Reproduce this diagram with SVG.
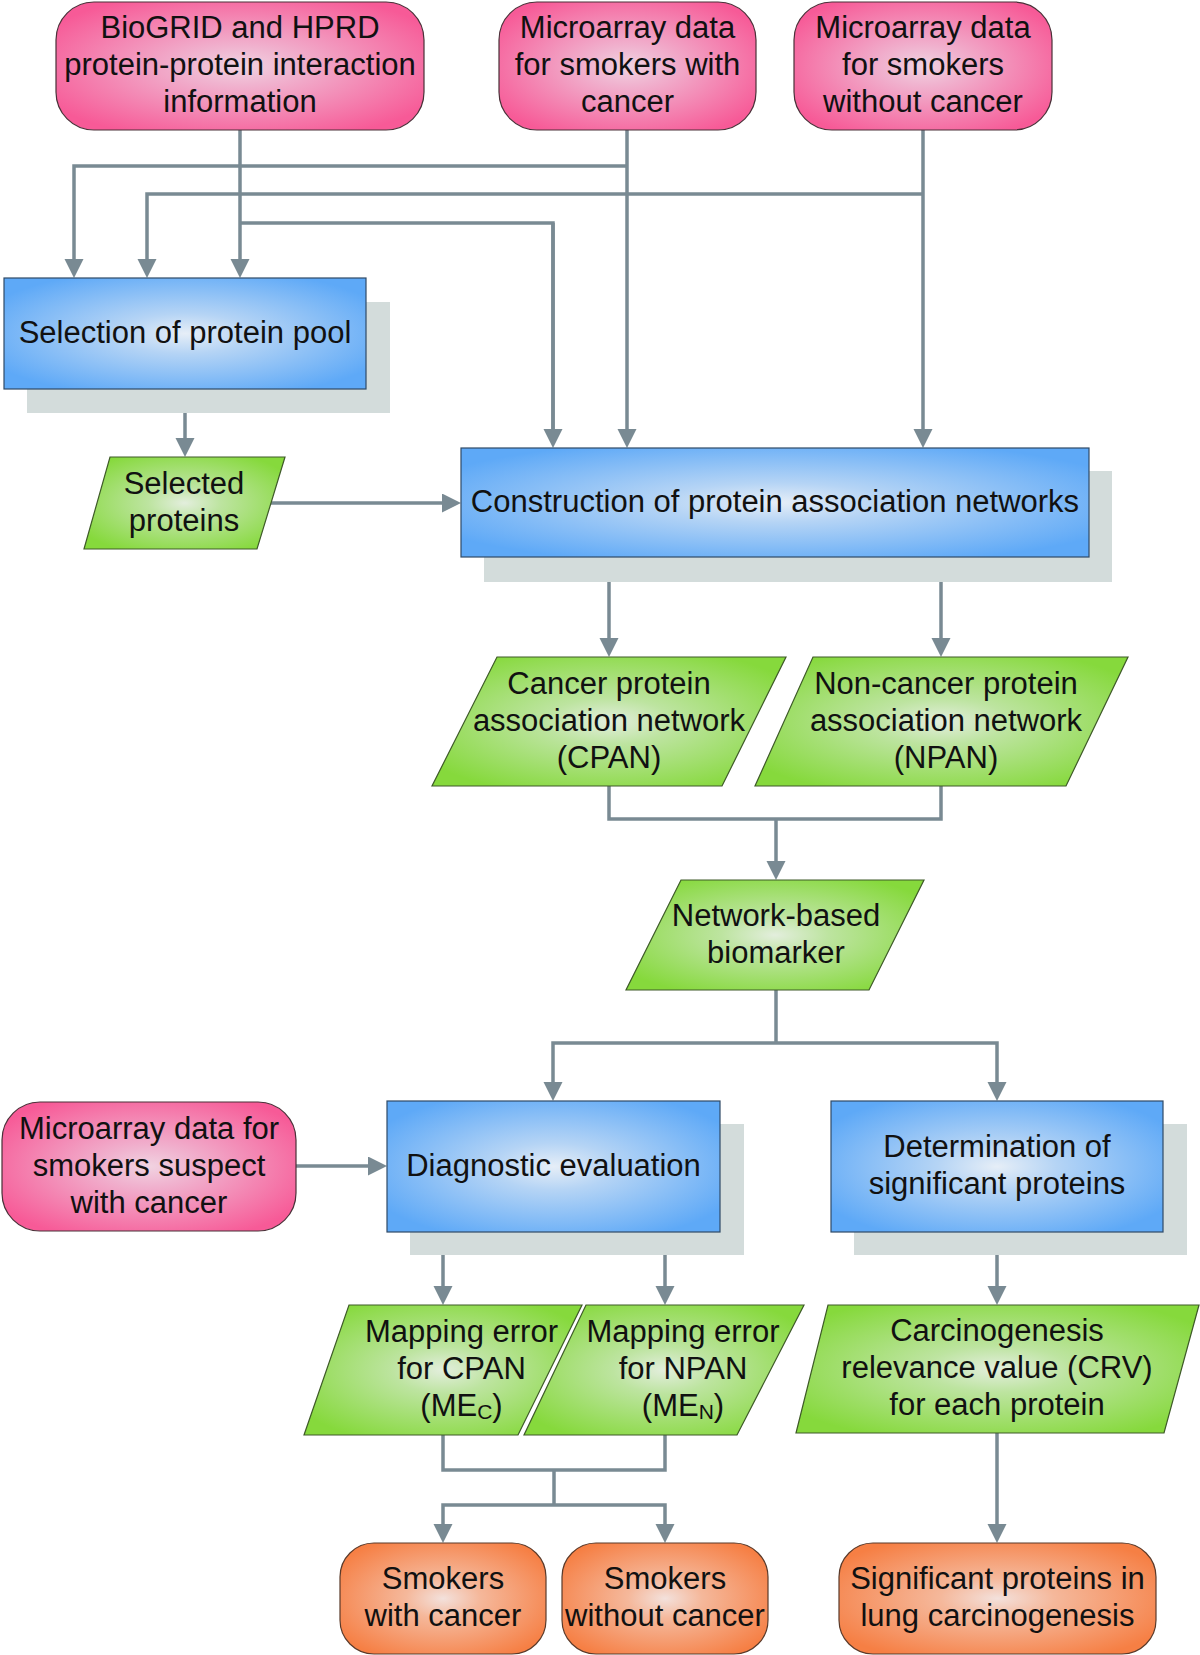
<svg xmlns="http://www.w3.org/2000/svg" width="1200" height="1655" viewBox="0 0 1200 1655">
<defs>
<radialGradient id="gPink" cx="50%" cy="50%" r="60%">
<stop offset="0" stop-color="#f1d3e1"/>
<stop offset="0.25" stop-color="#f0b3cf"/>
<stop offset="1" stop-color="#f75a97"/>
</radialGradient>
<radialGradient id="gBlue" cx="50%" cy="50%" r="60%">
<stop offset="0" stop-color="#e6eef7"/>
<stop offset="0.3" stop-color="#b5d4f5"/>
<stop offset="1" stop-color="#5ea9f7"/>
</radialGradient>
<radialGradient id="gGreen" cx="50%" cy="50%" r="60%">
<stop offset="0" stop-color="#e3eedd"/>
<stop offset="0.3" stop-color="#bde4a0"/>
<stop offset="1" stop-color="#86d93c"/>
</radialGradient>
<radialGradient id="gOrange" cx="50%" cy="50%" r="60%">
<stop offset="0" stop-color="#f3e1dc"/>
<stop offset="0.3" stop-color="#f5b89b"/>
<stop offset="1" stop-color="#f67f44"/>
</radialGradient>
<marker id="arr" markerUnits="userSpaceOnUse" markerWidth="20" markerHeight="20" refX="3" refY="9.5" orient="auto">
<path d="M0,0 L19,9.5 L0,19 z" fill="#798a93"/>
</marker>
</defs>
<style>
.pink{fill:url(#gPink);stroke:#4a3038;stroke-width:1.2}
.blue{fill:url(#gBlue);stroke:#2f4a66;stroke-width:1.2}
.green{fill:url(#gGreen);stroke:#3e5a28;stroke-width:1.2}
.orange{fill:url(#gOrange);stroke:#5a3a2a;stroke-width:1.2}
.shadow{fill:#d3dcdb}
text{font-family:"Liberation Sans",Arial,sans-serif;font-size:31px;fill:#111;text-anchor:middle}
.c{fill:none;stroke:#798a93;stroke-width:3.5;stroke-linejoin:miter}
.a{marker-end:url(#arr)}
</style>

<g id="connectors">
<path class="c" d="M240,223 H553 V432"/>
<path class="c a" d="M240,130 V262"/>
<path class="c a" d="M553,223 V432"/>
<path class="c a" d="M627,130 V432"/>
<path class="c a" d="M627,166 H74 V262"/>
<path class="c a" d="M923,130 V432"/>
<path class="c a" d="M923,194 H147 V262"/>
<path class="c a" d="M185,389 V441"/>
<path class="c a" d="M262,503 H445"/>
<path class="c a" d="M609,557 V641"/>
<path class="c a" d="M941,557 V641"/>
<path class="c" d="M609,786 V819 H941 V786"/>
<path class="c a" d="M776,819 V864"/>
<path class="c" d="M776,990 V1043"/>
<path class="c a" d="M776,1043 H553 V1085"/>
<path class="c a" d="M776,1043 H997 V1085"/>
<path class="c a" d="M296,1166 H371"/>
<path class="c a" d="M443,1232 V1289"/>
<path class="c a" d="M665,1232 V1289"/>
<path class="c" d="M443,1435 V1470 H665 V1435"/>
<path class="c" d="M554,1470 V1505"/>
<path class="c a" d="M554,1505 H443 V1527"/>
<path class="c a" d="M554,1505 H665 V1527"/>
<path class="c a" d="M997,1232 V1289"/>
<path class="c a" d="M997,1433 V1527"/>
</g>

<g id="biogrid">
<rect class="pink" x="56" y="2" width="368" height="128" rx="38"/>
<text x="240" y="38">BioGRID and HPRD</text>
<text x="240" y="75">protein-protein interaction</text>
<text x="240" y="112">information</text>
</g>
<g id="microarray-cancer">
<rect class="pink" x="499" y="2" width="257" height="128" rx="38"/>
<text x="627.5" y="38">Microarray data</text>
<text x="627.5" y="75">for smokers with</text>
<text x="627.5" y="112">cancer</text>
</g>
<g id="microarray-nocancer">
<rect class="pink" x="794" y="2" width="258" height="128" rx="38"/>
<text x="923" y="38">Microarray data</text>
<text x="923" y="75">for smokers</text>
<text x="923" y="112">without cancer</text>
</g>

<g id="selection">
<rect class="shadow" x="27" y="302" width="363" height="111"/>
<rect class="blue" x="4" y="278" width="362" height="111"/>
<text x="185" y="343">Selection of protein pool</text>
</g>

<g id="selected-proteins">
<polygon class="green" points="110,457 285,457 257,549 84,549"/>
<text x="184" y="493.5">Selected</text>
<text x="184" y="530.5">proteins</text>
</g>

<g id="construction">
<rect class="shadow" x="484" y="471" width="628" height="111"/>
<rect class="blue" x="461" y="448" width="628" height="109"/>
<text x="775" y="512">Construction of protein association networks</text>
</g>

<g id="cpan">
<polygon class="green" points="497,657 786,657 722,786 432,786"/>
<text x="609" y="693.5">Cancer protein</text>
<text x="609" y="730.5">association network</text>
<text x="609" y="767.5">(CPAN)</text>
</g>
<g id="npan">
<polygon class="green" points="813,657 1128,657 1066,786 755,786"/>
<text x="946" y="693.5">Non-cancer protein</text>
<text x="946" y="730.5">association network</text>
<text x="946" y="767.5">(NPAN)</text>
</g>

<g id="biomarker">
<polygon class="green" points="681,880 924,880 869,990 626,990"/>
<text x="776" y="925.5">Network-based</text>
<text x="776" y="962.5">biomarker</text>
</g>

<g id="microarray-suspect">
<rect class="pink" x="2" y="1102" width="294" height="129" rx="38"/>
<text x="149" y="1138.5">Microarray data for</text>
<text x="149" y="1175.5">smokers suspect</text>
<text x="149" y="1212.5">with cancer</text>
</g>

<g id="diagnostic">
<rect class="shadow" x="410" y="1124" width="334" height="131"/>
<rect class="blue" x="387" y="1101" width="333" height="131"/>
<text x="553.5" y="1175.5">Diagnostic evaluation</text>
</g>

<g id="determination">
<rect class="shadow" x="854" y="1124" width="333" height="131"/>
<rect class="blue" x="831" y="1101" width="332" height="131"/>
<text x="997" y="1157">Determination of</text>
<text x="997" y="1194">significant proteins</text>
</g>

<g id="me-cpan">
<polygon class="green" points="349,1305 582,1305 518,1435 304,1435"/>
<text x="461.5" y="1342">Mapping error</text>
<text x="461.5" y="1379">for CPAN</text>
<text x="461.5" y="1416">(ME<tspan font-size="21" dy="3">C</tspan><tspan dy="-3">)</tspan></text>
</g>
<g id="me-npan">
<polygon class="green" points="586,1305 804,1305 737,1435 524,1435"/>
<text x="683" y="1342">Mapping error</text>
<text x="683" y="1379">for NPAN</text>
<text x="683" y="1416">(ME<tspan font-size="21" dy="3">N</tspan><tspan dy="-3">)</tspan></text>
</g>

<g id="crv">
<polygon class="green" points="828,1305 1199,1305 1164,1433 796,1433"/>
<text x="997" y="1341">Carcinogenesis</text>
<text x="997" y="1378">relevance value (CRV)</text>
<text x="997" y="1415">for each protein</text>
</g>

<g id="smokers-cancer">
<rect class="orange" x="340" y="1543" width="206" height="111" rx="34"/>
<text x="443" y="1589">Smokers</text>
<text x="443" y="1626">with cancer</text>
</g>
<g id="smokers-nocancer">
<rect class="orange" x="562" y="1543" width="206" height="111" rx="34"/>
<text x="665" y="1589">Smokers</text>
<text x="665" y="1626">without cancer</text>
</g>
<g id="significant">
<rect class="orange" x="839" y="1543" width="317" height="111" rx="34"/>
<text x="997.5" y="1589">Significant proteins in</text>
<text x="997.5" y="1626">lung carcinogenesis</text>
</g>
</svg>
